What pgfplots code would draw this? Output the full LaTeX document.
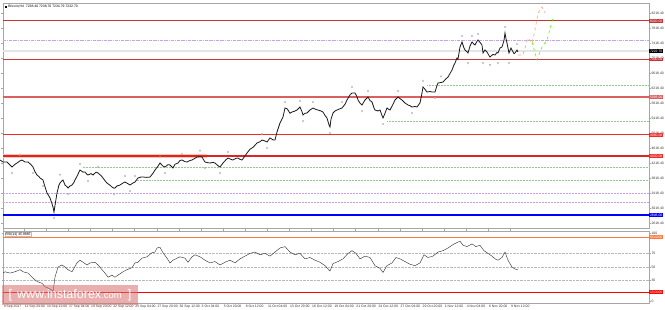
\documentclass[border=0pt]{standalone}
\usepackage{pgfplots}
\usepackage{pgfplotstable}
\pgfplotsset{compat=1.18}
\usepackage{fontspec}
\setmainfont{Liberation Sans}
\definecolor{dred}{RGB}{200,50,50}
\definecolor{dredb}{RGB}{205,55,55}
\definecolor{pred}{RGB}{220,95,95}
\definecolor{bred}{RGB}{245,40,40}
\definecolor{lav}{RGB}{200,160,235}
\definecolor{lgreen}{RGB}{150,200,150}
\definecolor{orng}{RGB}{255,120,60}
\definecolor{wm}{RGB}{215,110,110}
\newcommand{\tinyf}{\fontsize{3.4}{4}\selectfont}

\pgfplotstableread{
x p
0 4313
3 4260
7 4259
10 4180
12 4126
15 4200
17 4233
20 4290
22 4313
25 4260
28 4259
31 4190
33 4126
35 4000
37 3913
39 3870
40 3833
42 3800
43 3779
45 3600
47 3433
49 3350
50 3299
52 3150
53 3059
54 2926
55 3100
57 3433
59 3650
60 3699
62 3760
63 3779
65 3646
67 3600
68 3566
70 3620
72 3646
74 3720
75 3779
77 3880
80 4046
83 3990
85 3993
87 3930
88 3913
91 3950
93 3913
96 3990
98 3966
101 3900
103 3833
105 3760
107 3699
110 3640
112 3593
114 3560
115 3566
117 3620
120 3646
123 3700
125 3726
128 3680
130 3646
133 3700
135 3726
137 3800
138 3833
141 3860
143 3859
147 3850
150 3859
153 3960
155 4046
158 4150
160 4233
163 4150
165 4126
168 4190
170 4180
173 4100
175 4200
178 4233
180 4300
182 4313
185 4270
187 4259
190 4300
192 4313
195 4360
197 4393
200 4400
202 4393
204 4300
205 4259
208 4240
210 4233
213 4250
215 4233
218 4160
220 4126
223 4233
226 4320
228 4366
231 4330
233 4313
236 4360
238 4366
240 4330
242 4313
245 4420
247 4500
250 4600
253 4650
257 4766
260 4800
262 4846
265 4820
267 4793
270 4900
273 4850
275 4846
277 5060
280 5300
283 5460
285 5700
287 5680
288 5646
290 5560
292 5593
295 5620
297 5646
300 5726
302 5600
303 5513
305 5560
307 5566
310 5646
313 5700
316 5660
318 5646
321 5620
323 5593
325 5500
327 5433
329 5250
330 5193
331 5400
333 5566
335 5620
337 5646
340 5680
342 5700
345 5800
347 5913
350 6050
352 6100
355 6100
357 6000
358 5913
360 5830
362 5780
364 5870
365 5913
368 5993
370 5900
372 5860
374 5700
375 5646
378 5620
380 5646
382 5500
383 5433
385 5560
387 5700
389 5660
390 5646
393 5800
395 5913
398 5993
400 5950
402 5913
404 5860
405 5833
408 5780
410 5760
412 5726
415 5740
417 5726
419 5800
420 5833
422 6100
423 6260
425 6200
427 6126
430 6140
432 6126
435 6126
437 6300
438 6366
441 6380
443 6393
446 6480
448 6526
450 6620
452 6713
454 6850
455 6900
457 7033
458 7000
460 7327
462 7460
464 7300
465 7246
467 7200
468 7166
470 7350
472 7460
474 7400
475 7380
477 7480
478 7513
480 7450
482 7380
483 7166
485 7250
487 7193
489 7100
490 7060
493 7130
495 7113
497 7180
498 7166
500 7300
502 7327
504 7500
505 7700
506 7550
507 7433
509 7166
511 7300
512 7246
514 7150
515 7166
517 7246
518 7193
}\price

\pgfplotstableread{
x r
3 41
5 43
10 41
15 43
20 46
23 43
28 41
32 35
35 31
38 28
42 26
45 21
48 19
52 16
53 13
55 35
58 50
62 53
65 50
68 46
72 43
77 56
80 60
83 57
87 53
90 56
95 57
98 53
102 46
105 41
108 35
112 38
115 35
118 38
123 43
127 46
132 49
135 56
138 57
142 63
147 65
152 71
155 72
157 78
160 79
163 71
167 63
170 56
173 60
180 65
185 63
188 57
192 65
195 68
200 65
205 60
210 56
215 58
220 53
225 57
230 60
235 56
240 62
245 66
250 70
255 72
260 68
265 70
270 66
275 72
280 78
285 80
290 72
295 68
300 70
305 62
310 64
315 60
320 57
325 52
330 44
333 55
338 58
343 62
348 70
352 74
356 70
360 62
365 66
370 64
375 52
380 48
383 42
387 52
392 56
396 64
400 62
405 58
410 54
415 52
420 56
424 68
428 64
433 66
438 72
443 74
448 78
453 83
457 86
460 88
463 82
467 80
472 84
476 80
480 82
484 74
488 70
492 66
495 62
498 60
502 64
505 72
508 60
512 50
515 47
518 46
}\rsi

\begin{document}
\begin{tikzpicture}
\path[use as bounding box] (0pt,0pt) rectangle (665pt,310pt);
% ---------------- main price panel
\begin{axis}[at={(3pt,82pt)}, anchor=south west, scale only axis,
  width=646pt, height=225pt,
  xmin=3, xmax=649, ymin=2500, ymax=8500,
  clip=false,
  axis line style={gray!70, line width=0.6pt},
  xtick=\empty,
  ytick={2618.4,3018.4,3418.4,3818.4,4218.4,4618.4,5018.4,5418.4,5818.4,6218.4,6618.4,7018.4,7418.4,7818.4,8218.4},
  yticklabel pos=right,
  ytick align=outside, major tick length=1.5pt,
  tick style={gray!70, line width=0.3pt},
  yticklabel style={font=\tinyf, text=black!80, inner xsep=0.8pt},
  /pgf/number format/assume math mode=true,
  /pgf/number format/.cd, fixed, precision=2, fixed zerofill, 1000 sep={},
]
% levels
\addplot[orng!40, line width=4pt, forget plot] coordinates {(3,4420) (207,4420)};
\addplot[lav, line width=0.6pt, dash pattern=on 3pt off 1pt on 0.6pt off 1pt] coordinates {(3,7513) (649,7513)};
\addplot[gray!20, line width=2pt] coordinates {(3,7220) (649,7220)};
\addplot[dred, line width=1pt] coordinates {(3,8020) (649,8020)};
\addplot[draw=dredb, line width=1.2pt] coordinates {(3,6995) (649,6995)};
\addplot[pred, line width=1.1pt] coordinates {(3,5993) (649,5993)};
\addplot[bred, line width=1pt] coordinates {(3,4980) (649,4980)};
\addplot[bred!90!black, line width=1.1pt] coordinates {(3,4420) (649,4420)};
\addplot[lgreen, line width=0.5pt, densely dotted] coordinates {(427,6313) (649,6313)};
\addplot[lgreen, line width=0.5pt, densely dotted] coordinates {(387,5353) (649,5353)};
\addplot[lgreen, line width=0.5pt, densely dotted] coordinates {(83,4126) (649,4126)};
\addplot[lgreen, line width=0.5pt, densely dotted] coordinates {(137,3779) (649,3779)};
\addplot[lav, line width=0.5pt, densely dotted] coordinates {(3,3433) (649,3433)};
\addplot[lav, line width=0.5pt, densely dotted] coordinates {(3,3193) (649,3193)};
\addplot[blue, line width=1.5pt] coordinates {(3,2846) (649,2846)};
% fractal arrows
\addplot[only marks, mark=triangle, mark size=1.1pt, gray!70, mark options={line width=0.3pt}] coordinates {
(20,4450) (60,3920) (80,4206) (98,4126) (125,3886) (135,3886) (160,4393) (182,4473) (200,4560) (228,4526)
(262,5006) (285,5860) (300,5886) (313,5860) (342,5860) (352,6260) (368,6153) (398,6153) (423,6420)
(462,7620) (478,7673) (505,7860) (517,7406) (441,6540) (472,7620)};
\addplot[only marks, mark=triangle, mark size=1.1pt, gray!70, mark options={rotate=180, line width=0.3pt}] coordinates {
(12,3966) (33,3966) (43,3619) (54,2766) (68,3406) (88,3753) (114,3400) (130,3486) (165,3966) (205,4099)
(220,3966) (267,4633) (303,5353) (330,5033) (362,5620) (383,5273) (412,5566) (435,5966) (468,6900)
(483,6900) (490,6850) (509,6900) (498,6900)};
% price
\addplot[black!90, line width=0.8pt] table[x=x, y=p] {\price};
% forecasts
\addplot[orng!70, line width=0.6pt, dashed] coordinates {(518,7113) (523,7113) (528,7567) (532,7433) (535,7780) (538,8233) (542,8393) (545,8233)};
\addplot[green!70!yellow, line width=0.6pt, dashed] coordinates {(532,7460) (537,6980) (542,7327) (547,7513) (553,8100)};
% price boxes
\begin{scope}[every node/.style={font=\tinyf, text=white, inner xsep=0.8pt, inner ysep=0.6pt, anchor=west}]
\node[fill=dred] at (axis cs:649,8020) {8020.00};
\node[fill=black] at (axis cs:649,7220) {7222.70};
\node[fill=dred] at (axis cs:649,6995) {7000.00};
\node[fill=pred] at (axis cs:649,5993) {5993.00};
\node[fill=bred] at (axis cs:649,4980) {4980.00};
\node[fill=bred] at (axis cs:649,4420) {4420.00};
\node[fill=blue] at (axis cs:649,2846) {2846.00};
\end{scope}
\node[anchor=north west, font=\tinyf, inner sep=0.5pt] at (rel axis cs:0.002,0.992) {\rule{1.6pt}{1.6pt}\ \ Bitcoin,H4\ \ 7238.40 7238.70 7234.79 7222.70};
\end{axis}

% ---------------- RSI panel
\begin{axis}[at={(3pt,7pt)}, anchor=south west, scale only axis,
  width=646pt, height=72pt,
  xmin=3, xmax=649, ymin=-3, ymax=103,
  clip=false,
  axis line style={gray!70, line width=0.6pt},
  xtick={3,24.1,46.2,68.3,90.4,112.5,134.6,156.7,178.8,200.9,223,245.1,267.2,289.3,311.4,333.5,355.6,377.7,399.8,421.9,444,466.1,488.2,510.3},
  xticklabels={9 Sep 2017,11 Sep 20:00,14 Sep 12:00,17 Sep 04:00,19 Sep 20:00,22 Sep 12:00,25 Sep 04:00,27 Sep 20:00,30 Sep 12:00,3 Oct 04:00,5 Oct 20:00,8 Oct 12:00,11 Oct 04:00,13 Oct 20:00,16 Oct 12:00,19 Oct 04:00,21 Oct 20:00,24 Oct 12:00,27 Oct 04:00,29 Oct 20:00,1 Nov 12:00,4 Nov 04:00,6 Nov 20:00,9 Nov 12:00},
  xticklabel style={font=\tinyf, anchor=north west, inner xsep=0.6pt, inner ysep=0.6pt, text=black!80},
  ytick={30,50,70}, yticklabels={30,50,70},
  extra y ticks={0,100}, extra y tick labels={0,100},
  extra y tick style={grid=none},
  ymajorgrids, grid style={gray!55, line width=0.4pt, densely dotted},
  yticklabel pos=right,
  tick align=outside, major tick length=1.5pt,
  tick style={gray!70, line width=0.3pt},
  yticklabel style={font=\tinyf, text=black!80, inner xsep=0.8pt},
  /pgf/number format/assume math mode=true,
]
\addplot[orng, line width=1pt] coordinates {(3,94) (649,94)};
\addplot[red, line width=0.9pt] coordinates {(3,13) (649,13)};
\addplot[black!85, line width=0.4pt] table[x=x, y=r] {\rsi};
\begin{scope}[every node/.style={font=\tinyf, text=white, inner xsep=0.8pt, inner ysep=0.6pt, anchor=west}]
\node[fill=orng] at (axis cs:649,94) {94.0000};
\node[fill=red] at (axis cs:649,13) {13.0000};
\end{scope}
\node[anchor=north west, font=\tinyf, inner sep=0.6pt, draw=gray!50, line width=0.2pt, fill=white] at (rel axis cs:0.003,0.985) {RSI(14) 45.8865};
\end{axis}
% watermark
\node[fill=wm, fill opacity=0.55, text opacity=1, text=white, minimum width=136pt, minimum height=20pt, inner sep=0pt, font=\fontsize{12.5}{13}\selectfont] at (70pt,15pt) {[\hspace{5pt}www.instaforex{\fontsize{9.5}{10}\selectfont.com}\hspace{6pt}]};
\end{tikzpicture}
\end{document}
